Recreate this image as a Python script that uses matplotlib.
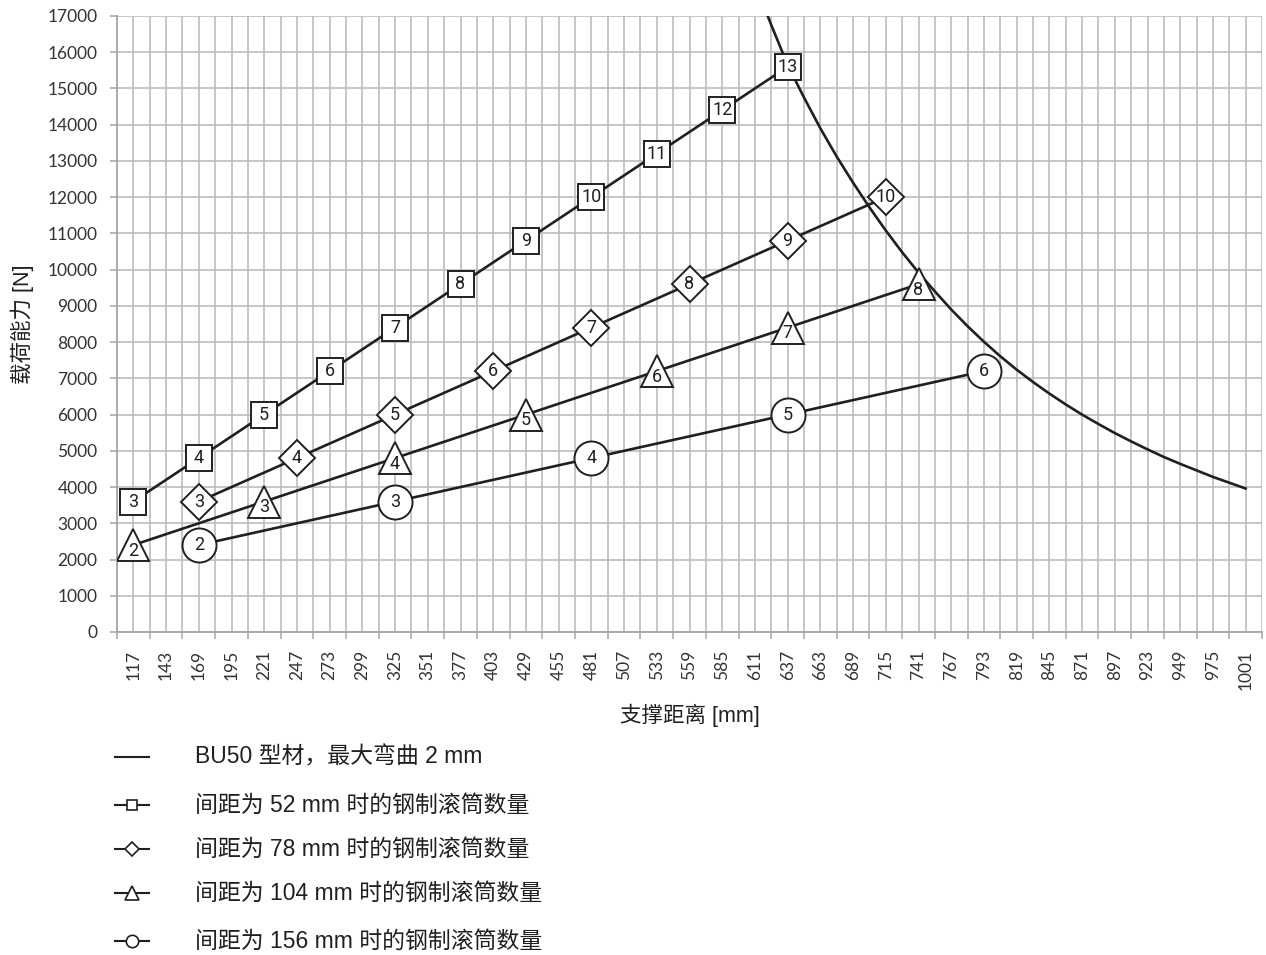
import numpy as np
import matplotlib

matplotlib.use('Agg')
import matplotlib.pyplot as plt
from matplotlib.lines import Line2D

# support distance categories [mm]
categories = list(range(117, 1002, 26))

# number of rollers / load for each spacing
sq_n = [3, 4, 5, 6, 7, 8, 9, 10, 11, 12, 13]
sq_x = [117, 169, 221, 273, 325, 377, 429, 481, 533, 585, 637]
sq_y = [3600, 4800, 6000, 7200, 8400, 9600, 10800, 12000, 13200, 14400, 15600]

di_n = [3, 4, 5, 6, 7, 8, 9, 10]
di_x = [169, 247, 325, 403, 481, 559, 637, 715]
di_y = [3600, 4800, 6000, 7200, 8400, 9600, 10800, 12000]

tr_n = [2, 3, 4, 5, 6, 7, 8]
tr_x = [117, 221, 325, 429, 533, 637, 741]
tr_y = [2400, 3600, 4800, 6000, 7200, 8400, 9600]

ci_n = [2, 3, 4, 5, 6]
ci_x = [169, 325, 481, 637, 793]
ci_y = [2400, 3600, 4800, 6000, 7200]

# BU50 profile, max bending 2 mm
bu_x = [611, 624, 637, 650, 663, 676, 689, 702, 715, 728, 741, 754, 767, 780,
        793, 806, 819, 832, 845, 858, 871, 884, 897, 910, 923, 936, 949, 962,
        975, 988, 1001]
bu_y = [17900, 16750, 15650, 14750, 13900, 13120, 12400, 11720, 11080, 10480,
        9920, 9400, 8900, 8440, 8010, 7610, 7240, 6900, 6580, 6280, 6000, 5740,
        5490, 5260, 5040, 4830, 4640, 4460, 4280, 4120, 3960]

legend_labels = ['BU50 型材，最大弯曲 2 mm',
                 '间距为 52 mm 时的钢制滚筒数量',
                 '间距为 78 mm 时的钢制滚筒数量',
                 '间距为 104 mm 时的钢制滚筒数量',
                 '间距为 156 mm 时的钢制滚筒数量']

INK = '#231f20'
GRID = '#bcbcc0'
CJK = ['Liberation Sans', 'Noto Sans CJK SC', 'DejaVu Sans']

W, H = 1266, 955
fig = plt.figure(figsize=(W / 100, H / 100), dpi=100)
ax = fig.add_axes([117 / W, 1 - 632 / H, (1262 - 117) / W, (632 - 16) / H])

ax.plot(bu_x, bu_y, color=INK, lw=1.9, zorder=3)

series = [
    (sq_x, sq_y, sq_n, 's', 19, 0),
    (di_x, di_y, di_n, 'D', 18.7, 0),
    (tr_x, tr_y, tr_n, '^', 23.5, -4),
    (ci_x, ci_y, ci_n, 'o', 24.5, 0),
]
for xs, ys, ns, mk, ms, dy in series:
    ax.plot(xs, ys, color=INK, lw=1.9, zorder=2)
    ax.plot(xs, ys, ls='none', marker=mk, ms=ms, mfc='white', mec=INK,
            mew=1.4, zorder=4)
    for x, y, n in zip(xs, ys, ns):
        ax.annotate(str(n), (x, y), xytext=(0, dy), textcoords='offset points',
                    ha='center', va='center', fontsize=13, family='Roboto',
                    color=INK, zorder=5)

ax.set_xlim(104, 1014)
ax.set_ylim(0, 17000)

ax.set_xticks(np.arange(104, 1015, 26))
ax.set_xticklabels([])
ax.set_xticks(categories, minor=True)
ax.set_xticklabels([str(c) for c in categories], minor=True, rotation=90,
                   family='Lato', fontsize=12.5, color='#333333')
ax.tick_params(axis='x', which='major', length=5, width=1.1, color='#a6a6a6')
ax.tick_params(axis='x', which='minor', length=0, pad=13)

ax.set_yticks(np.arange(0, 17001, 1000))
ax.set_yticklabels([str(v) for v in range(0, 17001, 1000)], family='Lato',
                   fontsize=12.5, color='#333333')
ax.tick_params(axis='y', length=5, width=1.1, color='#a6a6a6', pad=9)

ax.grid(True, which='both', axis='x', color=GRID, lw=1.2)
ax.grid(True, which='major', axis='y', color=GRID, lw=1.2)
ax.set_axisbelow(True)

for s in ['top', 'right']:
    ax.spines[s].set_visible(False)
for s in ['left', 'bottom']:
    ax.spines[s].set_color('#a6a6a6')
    ax.spines[s].set_linewidth(1.3)

ax.set_xlabel('支撑距离 [mm]', family=CJK, fontsize=15.5, color=INK, labelpad=10)
ax.set_ylabel('载荷能力 [N]', family=CJK, fontsize=15.5, color=INK, labelpad=10)

# legend rows below the chart
rows = [757, 805, 849, 893, 941]
handles = [(None, 0), ('s', 7.2), ('D', 7.4), ('^', 9.6), ('o', 8.9)]
for yr, (mk, ms), lab in zip(rows, handles, legend_labels):
    yf = 1 - yr / H
    fig.add_artist(Line2D([115 / W, 149 / W], [yf, yf], transform=fig.transFigure,
                          color=INK, lw=1.5))
    if mk:
        fig.add_artist(Line2D([132 / W], [yf], transform=fig.transFigure,
                              marker=mk, ms=ms, mfc='white', mec=INK, mew=1.2,
                              ls='none'))
    fig.text(195 / W, yf, lab, family=CJK, fontsize=16.5, color=INK,
             va='center', ha='left')

fig.savefig('out.png', dpi=100)
